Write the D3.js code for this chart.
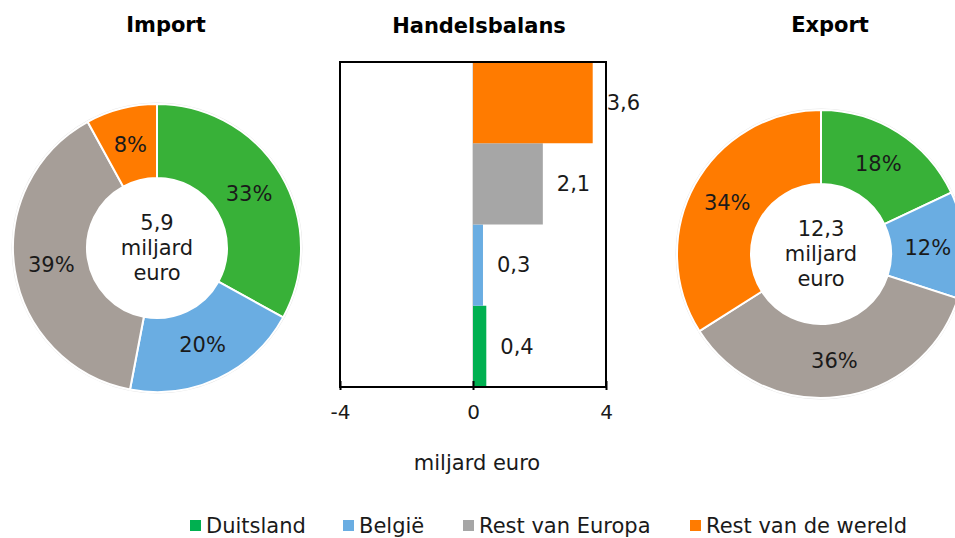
<!DOCTYPE html>
<html>
<head>
<meta charset="utf-8">
<script src="https://cdn.jsdelivr.net/npm/d3@7"></script>
<style>
  body { margin: 0; background: #fff; }
  svg { display: block; font-family: "DejaVu Sans", Verdana, sans-serif; }
</style>
</head>
<body>
<svg width="955" height="538"></svg>
<script>
var categories = ['Duitsland', 'België', 'Rest van Europa', 'Rest van de wereld'];
var importShares = [33, 20, 39, 8];
var exportShares = [18, 12, 36, 34];
var importTotal = '5,9';
var exportTotal = '12,3';
var balance = [0.4, 0.3, 2.1, 3.6];
var balanceLabels = ['0,4', '0,3', '2,1', '3,6'];
var xTicks = [-4, 0, 4];

var pieColors = ['#38b138', '#6aade2', '#a69e98', '#ff7b00'];
var barColors = ['#00b050', '#6aade2', '#a6a6a6', '#ff7b00'];

var svg = d3.select('svg');

function donut(cx, cy, shares, total, title){
  var g = svg.append('g').attr('transform', 'translate(' + cx + ',' + cy + ')');
  var pie = d3.pie().sort(null).value(function(d){ return d; });
  var arc = d3.arc().innerRadius(70).outerRadius(144);
  var labelArc = d3.arc().innerRadius(107).outerRadius(107);
  var arcs = pie(shares);

  g.append('circle').attr('r', 145).attr('fill', 'none').attr('stroke', '#e6e6e6').attr('stroke-width', 1);
  g.selectAll('path.slice')
      .data(arcs)
    .enter().append('path')
      .attr('class', 'slice')
      .attr('d', arc)
      .attr('fill', function(d, i){ return pieColors[i]; })
      .attr('stroke', '#fff')
      .attr('stroke-width', 2);

  g.selectAll('text.pct')
      .data(arcs)
    .enter().append('text')
      .attr('class', 'pct')
      .attr('transform', function(d){ return 'translate(' + labelArc.centroid(d) + ')'; })
      .attr('text-anchor', 'middle')
      .attr('dy', '0.35em')
      .attr('font-size', 21)
      .attr('fill', '#1a1a1a')
      .text(function(d){ return d.data + '%'; });

  var lines = [total, 'miljard', 'euro'];
  g.selectAll('text.center')
      .data(lines)
    .enter().append('text')
      .attr('class', 'center')
      .attr('text-anchor', 'middle')
      .attr('y', function(d, i){ return (i - 1) * 25; })
      .attr('dy', '0.35em')
      .attr('font-size', 21)
      .attr('fill', '#1a1a1a')
      .text(function(d){ return d; });

  svg.append('text')
    .attr('x', cx + 9).attr('y', 32)
    .attr('text-anchor', 'middle')
    .attr('font-size', 21)
    .attr('font-weight', 'bold')
    .text(title);
}

donut(157, 248, importShares, importTotal, 'Import');
donut(821, 254, exportShares, exportTotal, 'Export');

// balance bar chart
var plotLeft = 340, plotRight = 606, plotTop = 62, plotBottom = 387;
var x = d3.scaleLinear().domain([-4, 4]).range([plotLeft, plotRight]);
var y = d3.scaleBand().domain(categories.slice().reverse()).range([plotTop, plotBottom]).padding(0);
var bars = svg.append('g');

bars.append('line')
  .attr('x1', x(0)).attr('x2', x(0)).attr('y1', plotTop).attr('y2', plotBottom)
  .attr('stroke', '#bfbfbf').attr('stroke-width', 1);

bars.selectAll('rect.bar')
    .data(balance)
  .enter().append('rect')
    .attr('class', 'bar')
    .attr('x', function(d){ return x(Math.min(0, d)); })
    .attr('y', function(d, i){ return y(categories[i]); })
    .attr('width', function(d){ return Math.abs(x(d) - x(0)); })
    .attr('height', y.bandwidth())
    .attr('fill', function(d, i){ return barColors[i]; });

bars.selectAll('text.val')
    .data(balance)
  .enter().append('text')
    .attr('class', 'val')
    .attr('x', function(d){ return x(d) + 14; })
    .attr('y', function(d, i){ return y(categories[i]) + y.bandwidth() / 2; })
    .attr('dy', '0.35em')
    .attr('font-size', 21)
    .attr('fill', '#1a1a1a')
    .text(function(d, i){ return balanceLabels[i]; });

bars.append('rect')
  .attr('x', plotLeft).attr('y', plotTop).attr('width', plotRight - plotLeft).attr('height', plotBottom - plotTop)
  .attr('fill', 'none').attr('stroke', '#000').attr('stroke-width', 2);

var axis = d3.axisBottom(x).tickValues(xTicks).tickSize(6).tickSizeOuter(0)
  .tickFormat(function(d){ return d < 0 ? '-' + Math.abs(d) : d; });
var ax = bars.append('g').attr('transform', 'translate(0,' + (plotBottom - 3) + ')').call(axis);
ax.select('.domain').remove();
ax.selectAll('.tick line').attr('stroke', '#000').attr('stroke-width', 2).attr('y1', -3);
ax.selectAll('.tick text').attr('font-size', 20).attr('font-family', '"DejaVu Sans", Verdana, sans-serif')
  .attr('fill', '#1a1a1a').attr('y', 21);

svg.append('text')
  .attr('x', x(0) + 4).attr('y', 470)
  .attr('text-anchor', 'middle')
  .attr('font-size', 21)
  .attr('fill', '#1a1a1a')
  .text('miljard euro');

svg.append('text')
  .attr('x', 479).attr('y', 33)
  .attr('text-anchor', 'middle')
  .attr('font-size', 21)
  .attr('font-weight', 'bold')
  .text('Handelsbalans');

// legend
var legendX = [190, 343, 463, 690];
var legend = svg.append('g').selectAll('g')
    .data(categories)
  .enter().append('g')
    .attr('transform', function(d, i){ return 'translate(' + legendX[i] + ',526)'; });
legend.append('rect')
  .attr('x', 0).attr('y', -6).attr('width', 11).attr('height', 11)
  .attr('fill', function(d, i){ return barColors[i]; });
legend.append('text')
  .attr('x', 16).attr('dy', '0.35em')
  .attr('font-size', 21)
  .attr('fill', '#1a1a1a')
  .text(function(d){ return d; });
</script>
</body>
</html>
